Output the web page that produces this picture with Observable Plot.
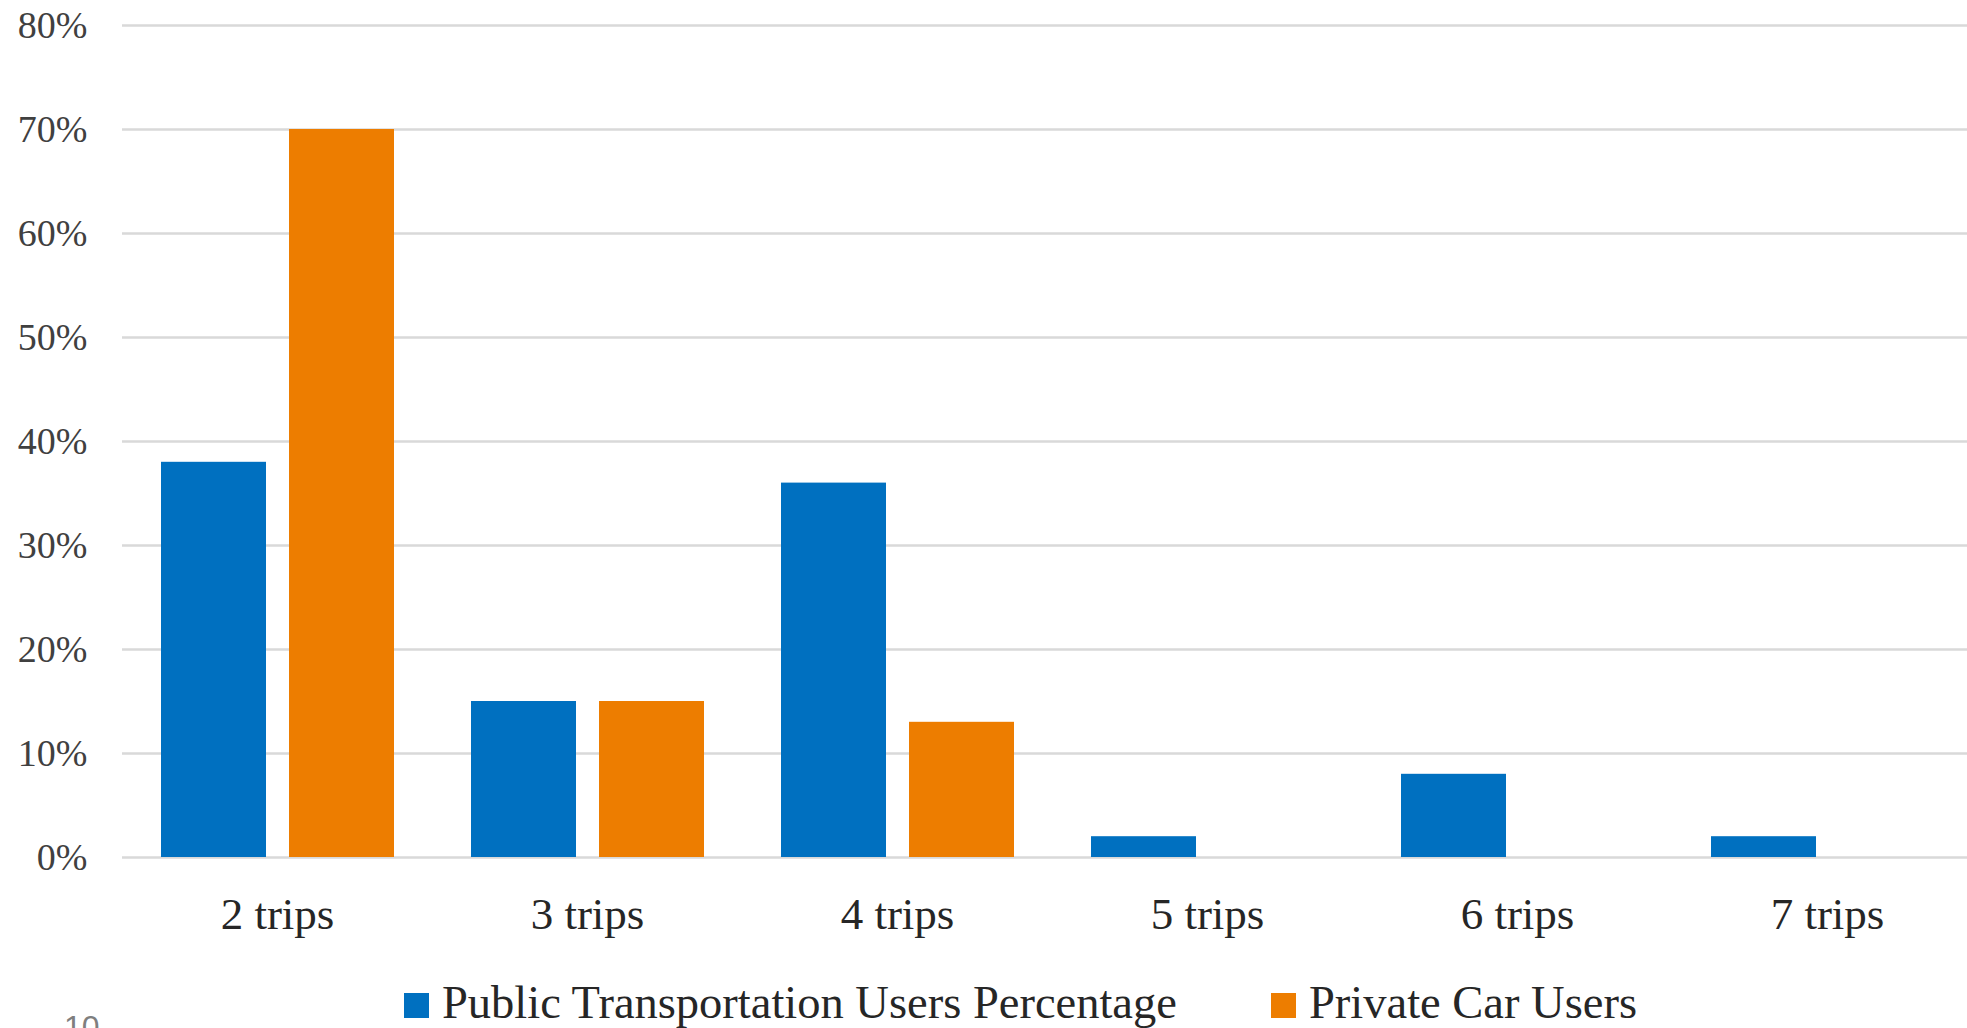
<!DOCTYPE html>
<html>
<head>
<meta charset="utf-8">
<script src="https://cdn.jsdelivr.net/npm/d3@7"></script>
<script src="https://cdn.jsdelivr.net/npm/@observablehq/plot@0.6"></script>
<style>
  html, body { margin: 0; padding: 0; overflow: hidden; background: #fff; }
  body { width: 1967px; height: 1028px; position: relative; font-family: "Liberation Serif", serif; }
  #chart { position: absolute; left: 0; top: 0; width: 2000px; }
  #chart svg { max-width: none !important; }
  #chart svg g[aria-label^="y-axis"] text { font-size: 38px; fill: #404040; }
  #chart svg g[aria-label^="fx-axis"] text { font-size: 45px; fill: #262626; }
  .legend-item { position: absolute; top: 980px; font-size: 46.5px; line-height: 46px; color: #262626; white-space: nowrap; }
  .swatch { display: inline-block; width: 25px; height: 25px; margin-right: 13px; vertical-align: baseline; }
  #pagenum { position: absolute; left: 64px; top: 1011px; font-family: "Liberation Sans", sans-serif; font-size: 32px; line-height: 32px; color: #7f7f7f; }
</style>
</head>
<body>
<div id="chart"></div>
<div id="legend"></div>
<div id="pagenum">10</div>
<script>
const categories = ["2 trips", "3 trips", "4 trips", "5 trips", "6 trips", "7 trips"];
const seriesNames = ["Public Transportation Users Percentage", "Private Car Users"];
const publicTransport = [38, 15, 36, 2, 8, 2];
const privateCar = [70, 15, 13, 0, 0, 0];
const yTicks = [0, 10, 20, 30, 40, 50, 60, 70, 80];
const colors = ["#0070C0", "#ED7D00"];

const table = [];
categories.forEach((c, i) => {
  table.push({category: c, series: seriesNames[0], value: publicTransport[i]});
  table.push({category: c, series: seriesNames[1], value: privateCar[i]});
});

const chart = Plot.plot({
  width: 1982,
  height: 950,
  marginLeft: 122,
  marginRight: 0,
  marginTop: 25,
  marginBottom: 93,
  style: {fontFamily: "Liberation Serif, serif", background: "transparent", maxWidth: "none"},
  facet: {data: table, x: "category"},
  fx: {domain: categories, padding: 0, label: null, tickSize: 0, tickPadding: 40},
  x: {domain: seriesNames, paddingInner: 0.18, paddingOuter: 0.3, axis: null},
  y: {domain: [0, 80], ticks: yTicks, tickFormat: d => d + "%", tickSize: 0, tickPadding: 35, label: null},
  color: {domain: seriesNames, range: colors},
  marks: [
    Plot.ruleY(yTicks, {stroke: "#D9D9D9", strokeWidth: 2.5}),
    Plot.barY(table, {x: "series", y: "value", fill: "series"})
  ]
});
document.getElementById("chart").appendChild(chart);

const legend = document.getElementById("legend");
const legendLeft = [404, 1271];
seriesNames.forEach((name, i) => {
  const item = document.createElement("div");
  item.className = "legend-item";
  item.style.left = legendLeft[i] + "px";
  const sw = document.createElement("span");
  sw.className = "swatch";
  sw.style.background = colors[i];
  item.appendChild(sw);
  item.appendChild(document.createTextNode(name));
  legend.appendChild(item);
});
</script>
</body>
</html>
